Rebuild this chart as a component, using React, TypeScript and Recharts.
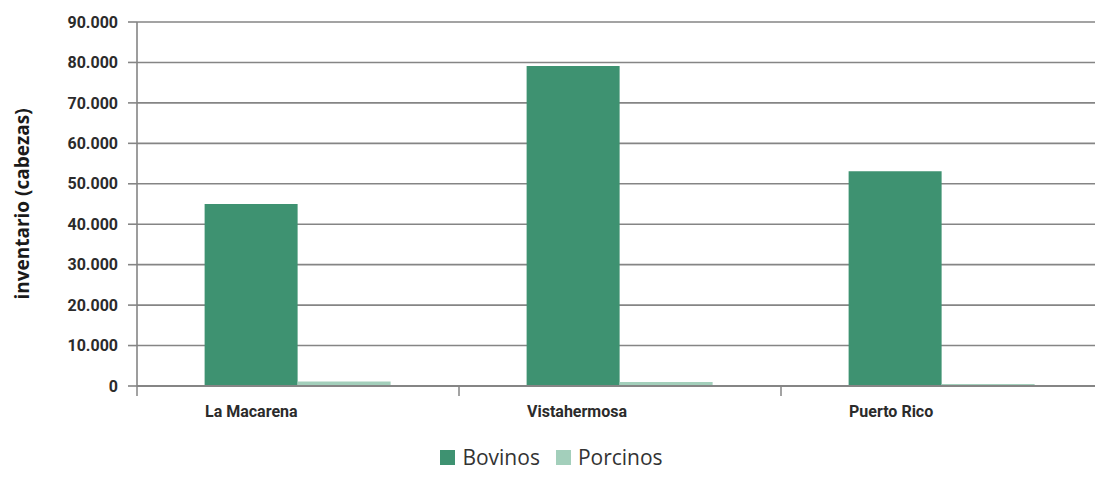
import { BarChart, Bar, XAxis, YAxis, CartesianGrid, Legend } from "recharts";

const municipios = ["La Macarena", "Vistahermosa", "Puerto Rico"];
const bovinos = [45000, 79100, 53100];
const porcinos = [1100, 1000, 500];
const yTicks = [0, 10000, 20000, 30000, 40000, 50000, 60000, 70000, 80000, 90000];

const data = municipios.map((name, i) => ({ name, bovinos: bovinos[i], porcinos: porcinos[i] }));

const BOVINOS = "#3e9271";
const PORCINOS = "#a3cfbb";
const GRID = "#858585";

const fmt = (v: number) => (v === 0 ? "0" : v.toLocaleString("de-DE"));

function CategoryTick(props: any) {
  const { x, y, payload } = props;
  const band = 322;
  return (
    <g>
      <line x1={x - band / 2} y1={y - 8} x2={x - band / 2} y2={y + 2} stroke={GRID} strokeWidth={1.5} />
      <text
        x={x - 93}
        y={y + 23}
        textAnchor="start"
        fontFamily="Roboto"
        fontWeight={700}
        fontSize={16}
        fill="#2b2b2b"
      >
        {payload.value}
      </text>
    </g>
  );
}

function LegendContent() {
  const items = [
    { label: "Bovinos", color: BOVINOS },
    { label: "Porcinos", color: PORCINOS },
  ];
  return (
    <div style={{ display: "flex", justifyContent: "center", gap: 16, fontFamily: "'Open Sans'", fontSize: 21, lineHeight: "26px", color: "#333" }}>
      {items.map((it) => (
        <span key={it.label} style={{ display: "flex", alignItems: "center", gap: 7 }}>
          <span style={{ display: "inline-block", width: 15, height: 15, background: it.color }} />
          {it.label}
        </span>
      ))}
    </div>
  );
}

export default function App() {
  return (
    <div style={{ position: "absolute", left: 0, top: 0, width: 1095, height: 477, overflow: "hidden", background: "#fff" }}>
      <BarChart
        width={1103}
        height={477}
        data={data}
        margin={{ top: 22, right: 0, bottom: 0, left: 0 }}
        barCategoryGap="21%"
        barGap={0}
      >
        <CartesianGrid vertical={false} stroke={GRID} strokeWidth={1.6} />
        <XAxis
          dataKey="name"
          axisLine={{ stroke: GRID, strokeWidth: 2 }}
          tickLine={false}
          tick={<CategoryTick />}
          height={52}
          interval={0}
        />
        <YAxis
          width={137}
          domain={[0, 90000]}
          ticks={yTicks}
          tickFormatter={fmt}
          axisLine={{ stroke: GRID, strokeWidth: 1.6 }}
          tickLine={{ stroke: GRID, strokeWidth: 1.6 }}
          tickSize={9}
          tickMargin={10}
          tick={{ fontFamily: "Roboto", fontWeight: 700, fontSize: 16, fill: "#2b2b2b" }}
          label={{
            value: "inventario (cabezas)",
            angle: -90,
            position: "insideLeft",
            offset: 22,
            style: { textAnchor: "middle", fontFamily: "'Open Sans'", fontWeight: 700, fontSize: 19, fill: "#1a1a1a" },
          }}
        />
        <Legend verticalAlign="bottom" height={39} wrapperStyle={{ bottom: -6 }} content={<LegendContent />} />
        <Bar dataKey="bovinos" name="Bovinos" fill={BOVINOS} isAnimationActive={false} />
        <Bar dataKey="porcinos" name="Porcinos" fill={PORCINOS} isAnimationActive={false} />
      </BarChart>
    </div>
  );
}
